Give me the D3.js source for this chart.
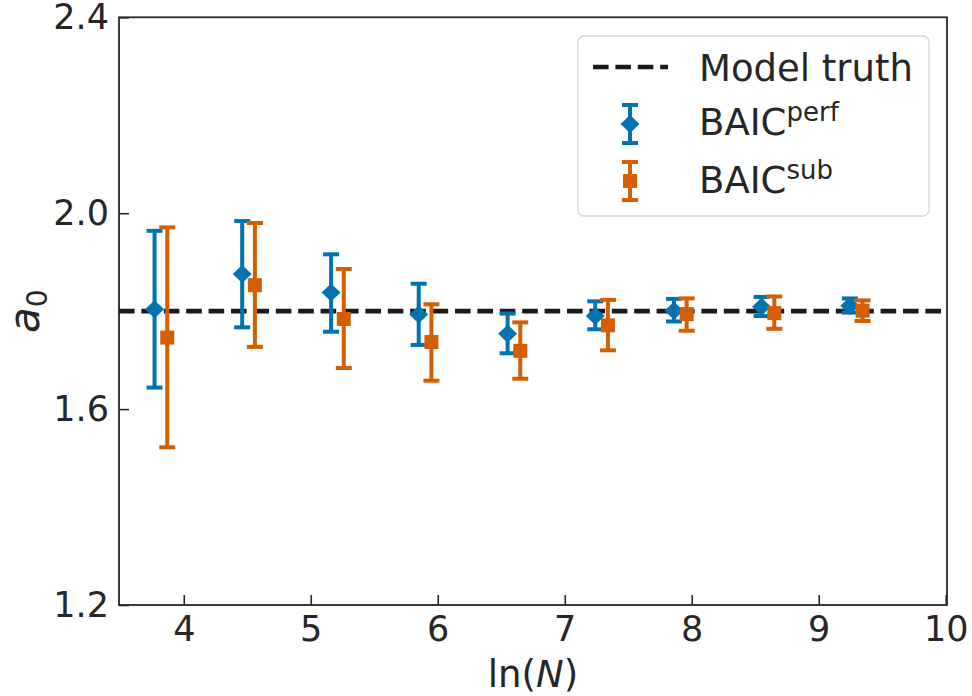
<!DOCTYPE html>
<html>
<head>
<meta charset="utf-8">
<script src="https://cdn.jsdelivr.net/npm/d3@7"></script>
<style>
  body { margin: 0; background: #fff; }
  svg { display: block; font-family: "DejaVu Sans", sans-serif; }
</style>
</head>
<body>
<div id="chart"></div>
<script>
// values
const lnN_perf = [3.77, 4.46, 5.16, 5.85, 6.55, 7.24, 7.86, 8.55, 9.245];
const perfMean = [1.804, 1.876, 1.838, 1.793, 1.754, 1.790, 1.801, 1.809, 1.811];
const perfLow  = [1.644, 1.767, 1.758, 1.731, 1.714, 1.763, 1.779, 1.790, 1.797];
const perfHigh = [1.964, 1.984, 1.916, 1.856, 1.795, 1.820, 1.825, 1.829, 1.826];

const lnN_sub = [3.87, 4.56, 5.26, 5.95, 6.65, 7.34, 7.96, 8.65, 9.345];
const subMean = [1.746, 1.853, 1.784, 1.737, 1.719, 1.771, 1.794, 1.796, 1.801];
const subLow  = [1.522, 1.727, 1.684, 1.658, 1.662, 1.720, 1.760, 1.764, 1.780];
const subHigh = [1.971, 1.980, 1.886, 1.814, 1.777, 1.823, 1.826, 1.830, 1.822];

const modelTruth = 1.8;
const xTicks = [4, 5, 6, 7, 8, 9, 10];
const yTicks = [1.2, 1.6, 2.0, 2.4];

const W = 972, H = 696;
const margin = { top: 17.3, right: 25, bottom: 91, left: 119 };
const ink = "#262626";
const blue = "#0173b2", orange = "#d55e00";

const svg = d3.select("#chart").append("svg")
  .attr("width", W).attr("height", H);

const x = d3.scaleLinear().domain([3.49, 10.01]).range([margin.left, W - margin.right]);
const y = d3.scaleLinear().domain([1.2, 2.4]).range([H - margin.bottom, margin.top]);

// axes, ticks pointing inward
const xAxis = svg.append("g")
  .attr("transform", `translate(0,${H - margin.bottom})`)
  .call(d3.axisBottom(x).tickValues(xTicks).tickSize(-10).tickPadding(20).tickFormat(d3.format("d")));
const yAxis = svg.append("g")
  .attr("transform", `translate(${margin.left},0)`)
  .call(d3.axisLeft(y).tickValues(yTicks).tickSize(-10).tickPadding(20).tickFormat(d3.format(".1f")));

[xAxis, yAxis].forEach(g => {
  g.select(".domain").remove();
  g.selectAll(".tick line").attr("stroke", ink).attr("stroke-width", 1.6);
  g.selectAll(".tick text").attr("fill", ink).style("font-size", "35px").style("font-family", "DejaVu Sans");
});
xAxis.selectAll(".tick text").attr("dy", "0.71em").attr("y", 11);
yAxis.selectAll(".tick text").attr("x", -10);

// frame
svg.append("rect")
  .attr("x", x.range()[0]).attr("y", y.range()[1])
  .attr("width", x.range()[1] - x.range()[0])
  .attr("height", y.range()[0] - y.range()[1])
  .attr("fill", "none").attr("stroke", ink).attr("stroke-width", 1.8);

// model truth
svg.append("line")
  .attr("x1", x.range()[0]).attr("x2", x.range()[1])
  .attr("y1", y(modelTruth)).attr("y2", y(modelTruth))
  .attr("stroke", "#1a1a1a").attr("stroke-width", 4.6)
  .attr("stroke-dasharray", "15.6 6.8");

function errorbars(xs, mean, lo, hi, color, shape) {
  const g = svg.append("g");
  const data = xs.map((d, i) => ({ x: d, m: mean[i], lo: lo[i], hi: hi[i] }));
  const capW = 8;
  g.selectAll("line.bar").data(data).join("line")
    .attr("x1", d => x(d.x)).attr("x2", d => x(d.x))
    .attr("y1", d => y(d.lo)).attr("y2", d => y(d.hi))
    .attr("stroke", color).attr("stroke-width", 4);
  ["lo", "hi"].forEach(k => {
    g.selectAll("line.cap" + k).data(data).join("line")
      .attr("x1", d => x(d.x) - capW).attr("x2", d => x(d.x) + capW)
      .attr("y1", d => y(d[k])).attr("y2", d => y(d[k]))
      .attr("stroke", color).attr("stroke-width", 4);
  });
  if (shape === "diamond") {
    g.selectAll("path.mk").data(data).join("path")
      .attr("d", d => { const cx = x(d.x), cy = y(d.m), r = 9.5, h = 9; return `M${cx},${cy - h}L${cx + r},${cy}L${cx},${cy + h}L${cx - r},${cy}Z`; })
      .attr("fill", color);
  } else {
    g.selectAll("rect.mk").data(data).join("rect")
      .attr("x", d => x(d.x) - 7).attr("y", d => y(d.m) - 7)
      .attr("width", 14).attr("height", 14)
      .attr("fill", color);
  }
}
errorbars(lnN_perf, perfMean, perfLow, perfHigh, blue, "diamond");
errorbars(lnN_sub, subMean, subLow, subHigh, orange, "square");

// legend
const lg = svg.append("g");
lg.append("rect")
  .attr("x", 578).attr("y", 36).attr("width", 351).attr("height", 180)
  .attr("rx", 6).attr("fill", "#fff").attr("fill-opacity", 0.8)
  .attr("stroke", "#d4d4d4").attr("stroke-width", 1.3);
lg.append("line")
  .attr("x1", 593).attr("x2", 668).attr("y1", 67).attr("y2", 67)
  .attr("stroke", "#1a1a1a").attr("stroke-width", 4.6)
  .attr("stroke-dasharray", "15.6 6.8");

function legendBar(cy, color, shape) {
  const cx = 630;
  lg.append("line").attr("x1", cx).attr("x2", cx).attr("y1", cy - 19).attr("y2", cy + 19)
    .attr("stroke", color).attr("stroke-width", 4);
  [cy - 19, cy + 19].forEach(v => lg.append("line")
    .attr("x1", cx - 8).attr("x2", cx + 8).attr("y1", v).attr("y2", v)
    .attr("stroke", color).attr("stroke-width", 4));
  if (shape === "diamond") {
    lg.append("path").attr("d", `M${cx},${cy - 9}L${cx + 9.5},${cy}L${cx},${cy + 9}L${cx - 9.5},${cy}Z`).attr("fill", color);
  } else {
    lg.append("rect").attr("x", cx - 7).attr("y", cy - 7).attr("width", 14).attr("height", 14).attr("fill", color);
  }
}
legendBar(124, blue, "diamond");
legendBar(181, orange, "square");

const legendText = (yy) => lg.append("text").attr("x", 699).attr("y", yy)
  .attr("fill", ink).style("font-size", "37px");
legendText(81).text("Model truth");
const t1 = legendText(135);
t1.append("tspan").text("BAIC");
t1.append("tspan").attr("dy", -14).style("font-size", "26px").text("perf");
const t2 = legendText(193);
t2.append("tspan").text("BAIC");
t2.append("tspan").attr("dy", -14).style("font-size", "26px").text("sub");

// axis labels
const xl = svg.append("text")
  .attr("x", (x.range()[0] + x.range()[1]) / 2).attr("y", 687)
  .attr("text-anchor", "middle").attr("fill", ink).style("font-size", "37px");
xl.append("tspan").text("ln(");
xl.append("tspan").style("font-style", "italic").text("N");
xl.append("tspan").text(")");

const yl = svg.append("text")
  .attr("transform", `translate(39,${y(1.8)}) rotate(-90)`)
  .attr("text-anchor", "middle").attr("fill", ink).style("font-size", "42px");
yl.append("tspan").style("font-style", "italic").text("a");
yl.append("tspan").attr("dy", 8).style("font-size", "28px").text("0");
</script>
</body>
</html>
